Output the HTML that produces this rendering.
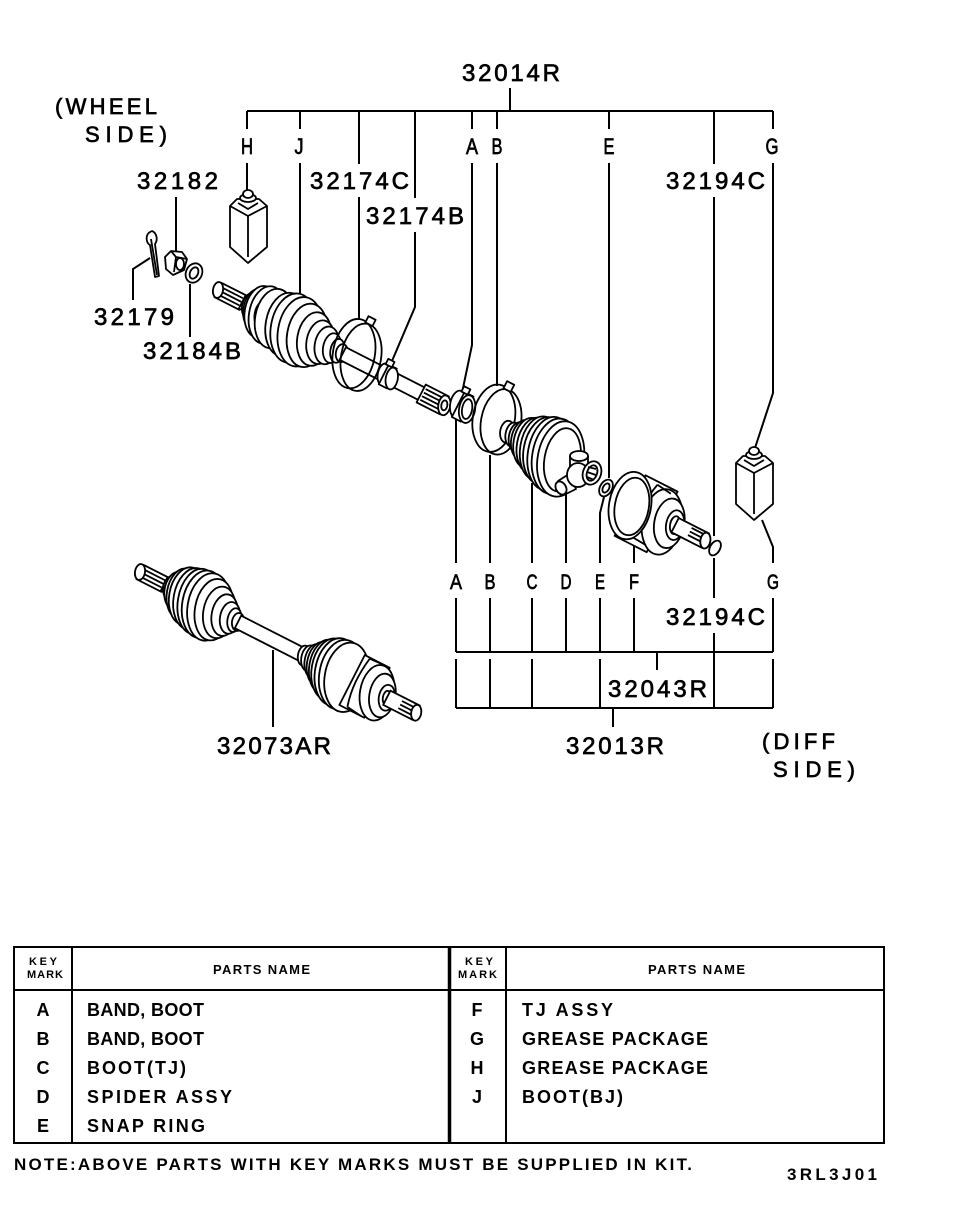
<!DOCTYPE html>
<html><head><meta charset="utf-8"><style>
html,body{margin:0;padding:0;background:#fff;}
svg{display:block;}
</style></head><body>
<svg width="960" height="1210" viewBox="0 0 960 1210" xmlns="http://www.w3.org/2000/svg">
<rect width="960" height="1210" fill="#fff"/>

<!-- ===== LEADER LINES ===== -->
<g stroke="#000" stroke-width="2" fill="none">
  <path d="M510,88 V111 M247,111 H773"/>
  <path d="M247,111 V129 M247,163 V193"/>
  <path d="M300,111 V129 M300,163 V300"/>
  <path d="M359,111 V164 M359,197 V320"/>
  <path d="M415,111 V198 M415,232 V307 L392,361"/>
  <path d="M472,111 V129 M472,163 V345 L462,393"/>
  <path d="M497,111 V129 M497,163 V386"/>
  <path d="M609,111 V129 M609,163 V478"/>
  <path d="M714,111 V164 M714,197 V536 M714,558 V598 M714,633 V708"/>
  <path d="M773,111 V129 M773,163 V393 L755,448"/>
  <path d="M176,197 V258"/>
  <path d="M133,300 V269 L150,258"/>
  <path d="M190,337 V284"/>
  <path d="M273,650 V727"/>
  <path d="M456,417 V563 M456,598 V652 M456,659 V708"/>
  <path d="M490,455 V563 M490,598 V652 M490,659 V708"/>
  <path d="M532,483 V563 M532,598 V652 M532,659 V708"/>
  <path d="M566,490 V563 M566,598 V652"/>
  <path d="M604,497 L600,513 V563 M600,598 V652 M600,659 V708"/>
  <path d="M634,533 V563 M634,598 V652"/>
  <path d="M762,520 L773,547 V563 M773,598 V652 M773,659 V708"/>
  <path d="M456,652 H773 M657,652 V670"/>
  <path d="M456,708 H773 M613,708 V727"/>
</g>

<!-- ===== DRAWING ===== -->
<g fill="#fff" stroke="#000" stroke-width="1.8" stroke-linejoin="round">

  <!-- grease package H -->
  <path d="M230,206 L237,199 L259,199 L267,206 L267,247 L248,263 L230,247 Z"/>
  <path d="M230,206 L248,216 L267,206 M248,216 V257 M238,203 L248,209 L258,203" fill="none"/>
  <ellipse cx="248" cy="198" rx="8" ry="4"/>
  <ellipse cx="248" cy="194" rx="5" ry="4"/>
  <!-- grease package G -->
  <g transform="translate(506,257)">
    <path d="M230,206 L237,199 L259,199 L267,206 L267,247 L248,263 L230,247 Z"/>
    <path d="M230,206 L248,216 L267,206 M248,216 V257 M238,203 L248,209 L258,203" fill="none"/>
    <ellipse cx="248" cy="198" rx="8" ry="4"/>
    <ellipse cx="248" cy="194" rx="5" ry="4"/>
  </g>

  <!-- cotter pin -->
  <path d="M150,232 C145,235 146,243 150,245 L155,277 L159,276 L155,244 C158,240 157,233 152,231 Z"/>
  <path d="M151,239 L157,275" fill="none"/>
  <!-- nut -->
  <path d="M165,257 L171,251 L182,252 L187,259 L184,270 L173,275 L166,269 Z"/>
  <path d="M171,251 L176,257 L174,272 M176,257 L187,259" fill="none"/>
  <ellipse cx="180" cy="264" rx="4" ry="6" fill="none"/>
  <!-- washer -->
  <ellipse cx="194" cy="273" rx="8" ry="10" transform="rotate(25 194 273)"/>
  <ellipse cx="194" cy="273" rx="4" ry="6" transform="rotate(25 194 273)" fill="none"/>

  <!-- ===== upper exploded assembly ===== -->
  <g transform="translate(218,290) rotate(27)">
    <rect x="0" y="-8" width="28" height="16"/>
    <path d="M3,-4H26M3,0H26M3,4H26" fill="none"/>
    <ellipse transform="translate(0 0) rotate(-17)" rx="5" ry="8"/>
    <rect x="27" y="-7" width="9" height="14"/>
    <ellipse transform="translate(36 0) rotate(-17)" rx="8" ry="13"/>
    <ellipse transform="translate(42 0) rotate(-17)" rx="12" ry="20"/>
    <ellipse transform="translate(48 0) rotate(-17)" rx="16" ry="26"/>
    <ellipse transform="translate(55 0) rotate(-17)" rx="18" ry="29"/>
    <ellipse transform="translate(50 2) rotate(-17)" rx="7" ry="13" fill="none"/>
    <ellipse transform="translate(63 0) rotate(-17)" rx="19" ry="30"/>
    <ellipse transform="translate(76 0) rotate(-17)" rx="20" ry="32"/>
    <ellipse transform="translate(84 0) rotate(-17)" rx="22" ry="35"/>
    <ellipse transform="translate(92 0) rotate(-17)" rx="22" ry="35"/>
    <ellipse transform="translate(100 0) rotate(-17)" rx="20" ry="32"/>
    <ellipse transform="translate(108 0) rotate(-17)" rx="17" ry="27"/>
    <ellipse transform="translate(115 0) rotate(-17)" rx="14" ry="22"/>
    <ellipse transform="translate(122 0) rotate(-17)" rx="12" ry="19"/>
    <ellipse transform="translate(128 0) rotate(-17)" rx="9" ry="15"/>
    <ellipse transform="translate(134 0) rotate(-17)" rx="7" ry="12"/>
    <ellipse transform="translate(139 0) rotate(-17)" rx="6" ry="9"/>
    <rect x="140" y="-7" width="92" height="14"/>
    <ellipse transform="translate(150 -5) rotate(-17)" rx="21" ry="35" fill="none"/>
    <ellipse transform="translate(158 -5) rotate(-17)" rx="20" ry="34" fill="none"/>
    <rect x="146" y="-45" width="8" height="7"/>
    <ellipse transform="translate(186 0) rotate(-17)" rx="6" ry="11"/>
    <rect x="186" y="-11" width="9" height="22"/>
    <ellipse transform="translate(195 0) rotate(-17)" rx="6" ry="11"/>
    <rect x="183" y="-16" width="7" height="6"/>
    <rect x="228" y="-10" width="26" height="20"/>
    <path d="M230,-6H252M230,-2H252M230,2H252M230,6H252" fill="none"/>
    <ellipse transform="translate(254 0) rotate(-17)" rx="6" ry="10"/>
    <ellipse transform="translate(254 0) rotate(-17)" rx="3" ry="5" fill="none"/>
    <ellipse transform="translate(266 -7) rotate(-17)" rx="8" ry="14"/>
    <rect x="266" y="-21" width="10" height="28"/>
    <ellipse transform="translate(276 -7) rotate(-17)" rx="8" ry="14"/>
    <ellipse transform="translate(276 -7) rotate(-17)" rx="5" ry="10" fill="none"/>
    <rect x="263" y="-26" width="7" height="6"/>
    <ellipse transform="translate(304 -11) rotate(-17)" rx="21" ry="34" fill="none"/>
    <ellipse transform="translate(312 -11) rotate(-17)" rx="20" ry="33" fill="none"/>
    <rect x="299" y="-50" width="8" height="8"/>
    <ellipse transform="translate(322 -5) rotate(-17)" rx="7" ry="11"/>
    <ellipse transform="translate(328 -5) rotate(-17)" rx="7" ry="12"/>
    <ellipse transform="translate(334 -5) rotate(-17)" rx="9" ry="15"/>
    <ellipse transform="translate(340 -5) rotate(-17)" rx="12" ry="20"/>
    <ellipse transform="translate(346 -5) rotate(-17)" rx="15" ry="25"/>
    <ellipse transform="translate(352 -5) rotate(-17)" rx="17" ry="28"/>
    <ellipse transform="translate(358 -5) rotate(-17)" rx="19" ry="32"/>
    <ellipse transform="translate(364 -5) rotate(-17)" rx="21" ry="34"/>
    <ellipse transform="translate(370 -5) rotate(-17)" rx="22" ry="37"/>
    <ellipse transform="translate(376 -5) rotate(-17)" rx="23" ry="38"/>
    <ellipse transform="translate(382 -5) rotate(-17)" rx="23" ry="38"/>
    <ellipse transform="translate(384 -5) rotate(-17)" rx="18" ry="32" fill="none"/>
  </g>

  <!-- spider D -->
  <path d="M569,474 L558,481 L564,495 L576,489 Z"/>
  <ellipse cx="561" cy="488" rx="5" ry="7" transform="rotate(-30 561 488)"/>
  <path d="M570,472 V456 H588 V472 Z"/>
  <ellipse cx="579" cy="456" rx="9" ry="5"/>
  <ellipse cx="578" cy="475" rx="11" ry="12"/>
  <ellipse cx="592" cy="473" rx="9" ry="12" transform="rotate(20 592 473)"/>
  <ellipse cx="592" cy="473" rx="5" ry="8" transform="rotate(20 592 473)" fill="none"/>
  <path d="M588,467 L596,469 M587,472 L596,475 M587,477 L594,480" fill="none"/>

  <!-- snap ring E -->
  <ellipse cx="606" cy="488" rx="6" ry="9" transform="rotate(30 606 488)"/>
  <ellipse cx="606" cy="488" rx="3" ry="5" transform="rotate(30 606 488)" fill="none"/>

  <!-- TJ housing F -->
  <g transform="translate(218,290) rotate(27)">
    <rect x="465" y="-29" width="36" height="68"/>
    <ellipse transform="translate(501 5) rotate(-17)" rx="20" ry="33"/>
    <path d="M480,-26 L496,-24 M480,-26 C476,-10 476,10 480,32 M480,32 L497,33" fill="none"/>
    <ellipse transform="translate(508 3) rotate(-17)" rx="15" ry="25"/>
    <ellipse transform="translate(514 2) rotate(-17)" rx="9" ry="15"/>
    <ellipse transform="translate(514 2) rotate(-17)" rx="5" ry="9" fill="none"/>
    <rect x="514" y="-6" width="34" height="16"/>
    <path d="M530,-3H546M530,1H546M530,5H546" fill="none"/>
    <ellipse transform="translate(548 2) rotate(-17)" rx="5" ry="8"/>
    <ellipse transform="translate(465 5) rotate(-17)" rx="21" ry="34"/>
    <ellipse transform="translate(467 5) rotate(-17)" rx="17" ry="29" fill="none"/>
  </g>

  <!-- O-ring 32194C -->
  <ellipse cx="715" cy="548" rx="5" ry="8" transform="rotate(30 715 548)"/>

  <!-- ===== lower assembly 32073AR ===== -->
  <g transform="translate(140,572) rotate(27)">
    <rect x="0" y="-8" width="28" height="16"/>
    <path d="M3,-4H26M3,0H26M3,4H26" fill="none"/>
    <ellipse transform="translate(0 0) rotate(-17)" rx="5" ry="8"/>
    <rect x="27" y="-7" width="8" height="14"/>
    <ellipse transform="translate(35 0) rotate(-17)" rx="8" ry="12"/>
    <ellipse transform="translate(41 0) rotate(-17)" rx="12" ry="19"/>
    <ellipse transform="translate(47 0) rotate(-17)" rx="15" ry="25"/>
    <ellipse transform="translate(53 0) rotate(-17)" rx="18" ry="29"/>
    <ellipse transform="translate(59 0) rotate(-17)" rx="19" ry="31"/>
    <ellipse transform="translate(65 0) rotate(-17)" rx="20" ry="33"/>
    <ellipse transform="translate(71 0) rotate(-17)" rx="21" ry="34"/>
    <ellipse transform="translate(77 0) rotate(-17)" rx="21" ry="34"/>
    <ellipse transform="translate(83 0) rotate(-17)" rx="19" ry="31"/>
    <ellipse transform="translate(89 0) rotate(-17)" rx="16" ry="26"/>
    <ellipse transform="translate(95 0) rotate(-17)" rx="13" ry="21"/>
    <ellipse transform="translate(101 0) rotate(-17)" rx="10" ry="16"/>
    <ellipse transform="translate(106 0) rotate(-17)" rx="7" ry="12"/>
    <ellipse transform="translate(110 0) rotate(-17)" rx="6" ry="9"/>
    <rect x="110" y="-7" width="78" height="14"/>
    <ellipse transform="translate(184 0) rotate(-17)" rx="6" ry="10"/>
    <ellipse transform="translate(190 0) rotate(-17)" rx="8" ry="13"/>
    <ellipse transform="translate(196 0) rotate(-17)" rx="10" ry="17"/>
    <ellipse transform="translate(202 0) rotate(-17)" rx="13" ry="22"/>
    <ellipse transform="translate(208 0) rotate(-17)" rx="16" ry="27"/>
    <ellipse transform="translate(214 0) rotate(-17)" rx="19" ry="31"/>
    <ellipse transform="translate(220 0) rotate(-17)" rx="21" ry="34"/>
    <ellipse transform="translate(226 0) rotate(-17)" rx="22" ry="35"/>
    <ellipse transform="translate(232 0) rotate(-17)" rx="22" ry="35"/>
    <rect x="238" y="-28" width="28" height="56"/>
    <path d="M244,-27 L262,-28 M244,-27 C241,-8 241,8 246,26 M246,26 L262,28" fill="none"/>
    <ellipse transform="translate(266 0) rotate(-17)" rx="17" ry="28"/>
    <ellipse transform="translate(272 0) rotate(-17)" rx="13" ry="22"/>
    <ellipse transform="translate(277 0) rotate(-17)" rx="8" ry="13"/>
    <ellipse transform="translate(277 0) rotate(-17)" rx="4" ry="7" fill="none"/>
    <rect x="277" y="-8" width="33" height="16"/>
    <path d="M292,-4H308M292,0H308M292,4H308" fill="none"/>
    <ellipse transform="translate(310 0) rotate(-17)" rx="5" ry="8"/>
  </g>
</g>

<!-- ===== LABELS ===== -->
<g font-family="'Liberation Sans', sans-serif" fill="#000" stroke="#000" stroke-width="0.7">
  <text x="462" y="81" font-size="24" textLength="98" lengthAdjust="spacing">32014R</text>
  <text x="55" y="114" font-size="22" textLength="102" lengthAdjust="spacing">(WHEEL</text>
  <text x="85" y="142" font-size="22" textLength="82" lengthAdjust="spacing">SIDE)</text>
  <g font-size="22" text-anchor="middle">
    <text x="247" y="154" textLength="12" lengthAdjust="spacingAndGlyphs">H</text>
    <text x="299" y="154" textLength="9" lengthAdjust="spacingAndGlyphs">J</text>
    <text x="472" y="154" textLength="12" lengthAdjust="spacingAndGlyphs">A</text>
    <text x="497" y="154" textLength="11" lengthAdjust="spacingAndGlyphs">B</text>
    <text x="609" y="154" textLength="11" lengthAdjust="spacingAndGlyphs">E</text>
    <text x="772" y="154" textLength="13" lengthAdjust="spacingAndGlyphs">G</text>
  </g>
  <g font-size="24">
    <text x="137" y="189" textLength="81" lengthAdjust="spacing">32182</text>
    <text x="310" y="189" textLength="99" lengthAdjust="spacing">32174C</text>
    <text x="366" y="224" textLength="98" lengthAdjust="spacing">32174B</text>
    <text x="666" y="189" textLength="99" lengthAdjust="spacing">32194C</text>
    <text x="94" y="325" textLength="80" lengthAdjust="spacing">32179</text>
    <text x="143" y="359" textLength="98" lengthAdjust="spacing">32184B</text>
    <text x="666" y="625" textLength="99" lengthAdjust="spacing">32194C</text>
    <text x="608" y="697" textLength="99" lengthAdjust="spacing">32043R</text>
    <text x="566" y="754" textLength="98" lengthAdjust="spacing">32013R</text>
    <text x="217" y="754" textLength="114" lengthAdjust="spacing">32073AR</text>
  </g>
  <g font-size="21" text-anchor="middle">
    <text x="456" y="589" textLength="12" lengthAdjust="spacingAndGlyphs">A</text>
    <text x="490" y="589" textLength="11" lengthAdjust="spacingAndGlyphs">B</text>
    <text x="532" y="589" textLength="11" lengthAdjust="spacingAndGlyphs">C</text>
    <text x="566" y="589" textLength="11" lengthAdjust="spacingAndGlyphs">D</text>
    <text x="600" y="589" textLength="10" lengthAdjust="spacingAndGlyphs">E</text>
    <text x="634" y="589" textLength="10" lengthAdjust="spacingAndGlyphs">F</text>
    <text x="773" y="589" textLength="12" lengthAdjust="spacingAndGlyphs">G</text>
  </g>
  <text x="762" y="749" font-size="22" textLength="73" lengthAdjust="spacing">(DIFF</text>
  <text x="773" y="777" font-size="22" textLength="82" lengthAdjust="spacing">SIDE)</text>
</g>

<!-- ===== TABLE ===== -->
<g stroke="#000" fill="none">
  <rect x="14" y="947" width="870" height="196" stroke-width="2"/>
  <path d="M14,990 H884" stroke-width="2"/>
  <path d="M72,947 V1143 M506,947 V1143" stroke-width="2"/>
  <path d="M449.5,947 V1143" stroke-width="3.5"/>
</g>
<g font-family="'Liberation Sans', sans-serif" font-weight="bold" fill="#000">
  <text x="29" y="965" font-size="11" textLength="28" lengthAdjust="spacing">KEY</text>
  <text x="27" y="978" font-size="11" textLength="36" lengthAdjust="spacing">MARK</text>
  <text x="465" y="965" font-size="11" textLength="28" lengthAdjust="spacing">KEY</text>
  <text x="458" y="978" font-size="11" textLength="39" lengthAdjust="spacing">MARK</text>
  <text x="213" y="974" font-size="13" textLength="97" lengthAdjust="spacing">PARTS NAME</text>
  <text x="648" y="974" font-size="13" textLength="97" lengthAdjust="spacing">PARTS NAME</text>
  <g font-size="18" text-anchor="middle">
    <text x="43" y="1016">A</text>
    <text x="43" y="1045">B</text>
    <text x="43" y="1074">C</text>
    <text x="43" y="1103">D</text>
    <text x="43" y="1132">E</text>
    <text x="477" y="1016">F</text>
    <text x="477" y="1045">G</text>
    <text x="477" y="1074">H</text>
    <text x="477" y="1103">J</text>
  </g>
  <g font-size="18">
    <text x="87" y="1016" textLength="117" lengthAdjust="spacing">BAND, BOOT</text>
    <text x="87" y="1045" textLength="117" lengthAdjust="spacing">BAND, BOOT</text>
    <text x="87" y="1074" textLength="99" lengthAdjust="spacing">BOOT(TJ)</text>
    <text x="87" y="1103" textLength="145" lengthAdjust="spacing">SPIDER ASSY</text>
    <text x="87" y="1132" textLength="118" lengthAdjust="spacing">SNAP RING</text>
    <text x="522" y="1016" textLength="91" lengthAdjust="spacing">TJ ASSY</text>
    <text x="522" y="1045" textLength="186" lengthAdjust="spacing">GREASE PACKAGE</text>
    <text x="522" y="1074" textLength="186" lengthAdjust="spacing">GREASE PACKAGE</text>
    <text x="522" y="1103" textLength="101" lengthAdjust="spacing">BOOT(BJ)</text>
  </g>
  <text x="14" y="1170" font-size="17" textLength="678" lengthAdjust="spacing">NOTE:ABOVE PARTS WITH KEY MARKS MUST BE SUPPLIED IN KIT.</text>
  <text x="787" y="1180" font-size="17" textLength="90" lengthAdjust="spacing">3RL3J01</text>
</g>
</svg>
</body></html>
